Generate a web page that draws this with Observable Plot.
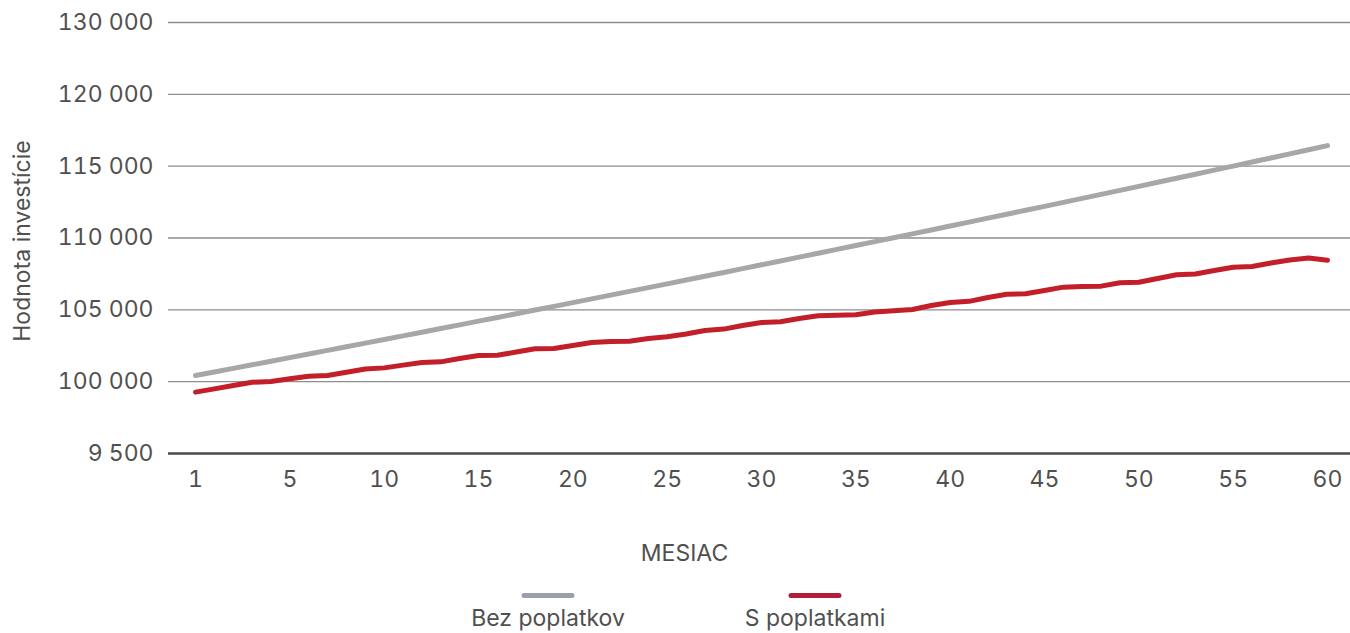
<!DOCTYPE html>
<html>
<head>
<meta charset="utf-8">
<script src="https://cdn.jsdelivr.net/npm/d3@7"></script>
<script src="https://cdn.jsdelivr.net/npm/@observablehq/plot@0.6"></script>
<style>
  html, body { margin: 0; padding: 0; background: #fff; }
  #wrap { position: relative; width: 1350px; height: 633px; overflow: hidden; font-family: Inter, "Noto Sans", sans-serif; color: #505050; }
  #chart svg { display: block; }
  .lg-swatch { position: absolute; height: 5px; width: 53px; border-radius: 3px; top: 593px; transform: translateX(-50%); }
  .lg-text { position: absolute; top: 607px; font-size: 23px; line-height: 23px; white-space: nowrap; transform: translateX(-50%); color: #505050; }
</style>
</head>
<body>
<div id="wrap">
  <div id="chart"></div>
</div>
<script>
// ---- data ----
const months = d3.range(0, 61); // month index positions along the axis
const seriesNames = ["Bez poplatkov", "S poplatkami"];
const lineColors = ["#a7a7a7", "#c31f2b"];
const legendColors = ["#99a0a9", "#af1f3c"];

const bezPoplatkov = [
  100430, 100677, 100925, 101174, 101424, 101675, 101926, 102177, 102429, 102682,
  102935, 103189, 103444, 103699, 103955, 104211, 104468, 104726, 104985, 105244,
  105503, 105764, 106025, 106286, 106548, 106810, 107074, 107338, 107602, 107868,
  108134, 108401, 108668, 108936, 109205, 109475, 109745, 110016, 110287, 110559,
  110832, 111106, 111380, 111654, 111930, 112205, 112483, 112761, 113039, 113317,
  113596, 113877, 114158, 114439, 114721, 115004, 115288, 115572, 115857, 116143,
  116430
];
const sPoplatkami = [
  99270, 99500, 99730, 99960, 100010, 100200, 100380, 100430, 100650, 100880,
  100960, 101150, 101330, 101380, 101610, 101820, 101840, 102060, 102290, 102310,
  102520, 102730, 102790, 102810, 103000, 103120, 103320, 103560, 103660, 103910,
  104120, 104170, 104400, 104590, 104620, 104660, 104850, 104930, 105020, 105300,
  105510, 105590, 105860, 106080, 106120, 106350, 106580, 106620, 106650, 106880,
  106920, 107180, 107440, 107500, 107740, 107960, 108020, 108260, 108470, 108610,
  108450
];

const yTickValues = [95000, 100000, 105000, 110000, 115000, 120000, 125000];
const yTickLabels = ["9 500", "100 000", "105 000", "110 000", "115 000", "120 000", "130 000"];
const xTickValues = [0, 5, 10, 15, 20, 25, 30, 35, 40, 45, 50, 55, 60];
const xTickLabels = ["1", "5", "10", "15", "20", "25", "30", "35", "40", "45", "50", "55", "60"];
const xTitle = "MESIAC";
const yTitle = "Hodnota investície";

// ---- build table ----
const rows = [];
months.forEach((m, i) => {
  rows.push({ month: m, value: bezPoplatkov[i], series: seriesNames[0] });
});
months.forEach((m, i) => {
  rows.push({ month: m, value: sPoplatkami[i], series: seriesNames[1] });
});
const yLab = new Map(yTickValues.map((v, i) => [v, yTickLabels[i]]));
const xLab = new Map(xTickValues.map((v, i) => [v, xTickLabels[i]]));

const chart = Plot.plot({
  width: 1350,
  height: 575,
  marginLeft: 195,
  marginRight: 23,
  marginTop: 22,
  marginBottom: 122,
  style: { fontFamily: "Inter, 'Noto Sans', sans-serif", fontSize: "23px", color: "#505050", background: "#fff", overflow: "visible" },
  x: { domain: [0, 60], axis: null },
  y: { domain: [95000, 125000], axis: null },
  color: { domain: seriesNames, range: lineColors },
  marks: [
    Plot.ruleY(yTickValues.slice(1), { stroke: "#8e8e8e", strokeWidth: 1.3, insetLeft: -27, insetRight: -23 }),
    Plot.ruleY(yTickValues.slice(0, 1), { stroke: "#4a4a4a", strokeWidth: 2.6, insetLeft: -27, insetRight: -23 }),
    Plot.axisY({ ticks: yTickValues, tickFormat: d => yLab.get(d), tickSize: 0, tickPadding: 42, label: null, fontSize: 23 }),
    Plot.axisX({ ticks: xTickValues, tickFormat: d => xLab.get(d), tickSize: 0, tickPadding: 17, label: null, fontSize: 23 }),
    Plot.line(rows, { x: "month", y: "value", z: "series", stroke: "series", strokeWidth: 5, strokeLinecap: "round", strokeLinejoin: "round" }),
    Plot.text([xTitle], { frameAnchor: "bottom", textAnchor: "middle", lineAnchor: "middle", dy: 100, dx: -77, fontSize: 23, fill: "#505050" }),
    Plot.text([yTitle], { frameAnchor: "left", textAnchor: "middle", lineAnchor: "middle", rotate: -90, dx: -173, dy: 3, fontSize: 23, fill: "#505050" })
  ]
});
document.getElementById("chart").appendChild(chart);

// ---- legend (HTML, below the SVG) ----
const wrap = document.getElementById("wrap");
const legendCenters = [548, 815];
seriesNames.forEach((name, i) => {
  const sw = document.createElement("div");
  sw.className = "lg-swatch";
  sw.style.left = legendCenters[i] + "px";
  sw.style.background = legendColors[i];
  wrap.appendChild(sw);
  const tx = document.createElement("div");
  tx.className = "lg-text";
  tx.style.left = legendCenters[i] + "px";
  tx.textContent = name;
  wrap.appendChild(tx);
});
</script>
</body>
</html>
